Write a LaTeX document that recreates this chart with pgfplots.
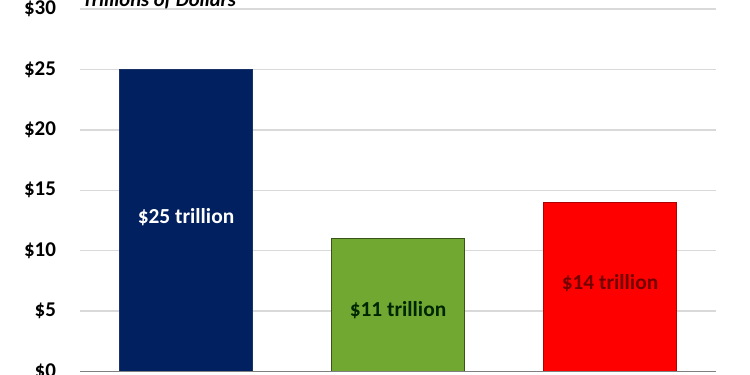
\documentclass[border=0pt]{standalone}
\usepackage{pgfplots}
\pgfplotsset{compat=1.18}
\usepackage{fontspec}
\setmainfont{Carlito}
\definecolor{barblue}{HTML}{002060}
\definecolor{bargreen}{HTML}{70A832}
\definecolor{barred}{HTML}{FF0000}
\definecolor{gridgray}{HTML}{D9D9D9}
\begin{document}
\begin{tikzpicture}[x=1pt,y=1pt]
\clip (-40pt,-1.75pt) rectangle (335pt,185.75pt);
\begin{axis}[
  at={(0,0)}, anchor=south west,
  scale only axis, width=318pt, height=181.25pt,
  xmin=-0.5, xmax=2.5, ymin=0, ymax=30,
  ytick={0,5,...,30},
  yticklabel={\textbf{\$\pgfmathprintnumber{\tick}}},
  yticklabel style={font=\fontsize{10.5}{12}\selectfont, xshift=-8.5pt},
  /pgf/number format/assume math mode=true,
  xtick=\empty,
  ymajorgrids, major grid style={gridgray, line width=0.7pt},
  axis line style={draw=none},
  major tick length=0pt,
  ybar, bar width=0.627, bar shift=0pt,
  clip=false,
]
\addplot[fill=barblue, draw=barblue!80!gray] coordinates {(0,25)};
\addplot[fill=bargreen, draw=bargreen!50!black] coordinates {(1,11)};
\addplot[fill=barred, draw=barred!70!black] coordinates {(2,14)};
\draw[gray, line width=0.8pt] (axis cs:-0.5,0) -- (axis cs:2.5,0);
\node[font=\fontsize{10.7}{12}\selectfont\bfseries, text=white] at (axis cs:0,12.8) {\$25 trillion};
\node[font=\fontsize{10.7}{12}\selectfont\bfseries, text=black!85!green] at (axis cs:1,5.1) {\$11 trillion};
\node[font=\fontsize{10.7}{12}\selectfont\bfseries, text=barred!45!black] at (axis cs:2,7.3) {\$14 trillion};
\end{axis}
\node[anchor=base west, font=\fontsize{10.3}{12}\selectfont\bfseries\itshape, inner sep=0pt] at (1pt,182.6pt) {Trillions of Dollars};
\end{tikzpicture}
\end{document}
